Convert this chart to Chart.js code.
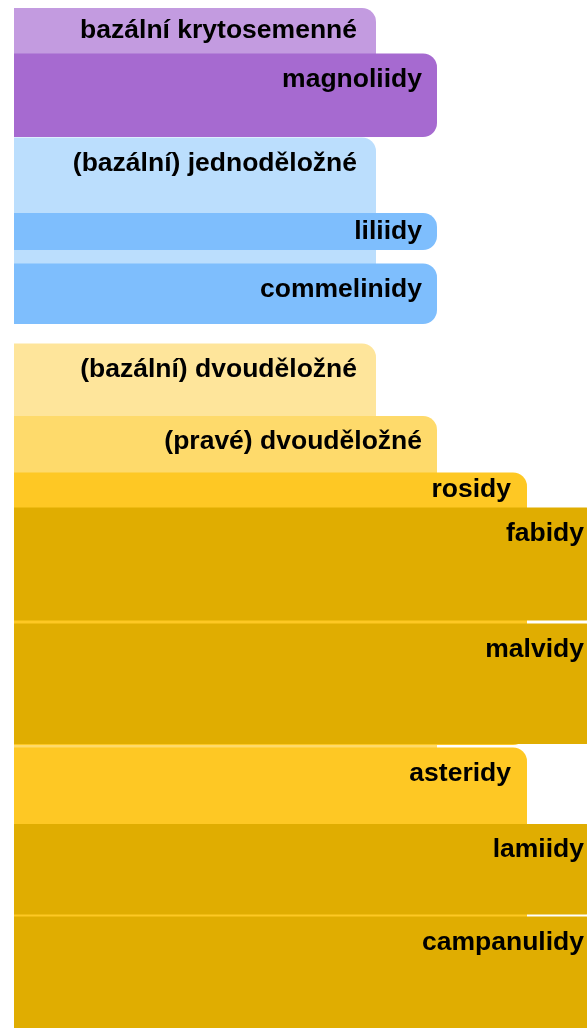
<!DOCTYPE html>
<html>
<head>
<meta charset="utf-8">
<script src="https://cdn.jsdelivr.net/npm/chart.js@4"></script>
<style>
  html, body { margin: 0; padding: 0; background: #fff; overflow: hidden; }
  #wrap { position: absolute; left: 0; top: 0; width: 614px; height: 1108px; }
</style>
</head>
<body>
<div id="wrap"><canvas id="icicle"></canvas></div>
<script>
// clades, top to bottom
const names = [
  "bazální krytosemenné", "magnoliidy",
  "(bazální) jednoděložné", "liliidy", "commelinidy",
  "(bazální) dvouděložné", "(pravé) dvouděložné",
  "rosidy", "fabidy", "malvidy",
  "asteridy", "lamiidy", "campanulidy"
];
const level = [1, 2, 1, 2, 2, 1, 2, 3, 4, 4, 3, 4, 4];
const parentOf = [-1, 0, -1, 2, 2, -1, 5, 6, 7, 7, 6, 10, 10];
const spanFrom = [0, 45.5, 129.5, 205, 255.5, 335.5, 408, 464.5, 499.5, 615.5, 739.5, 816, 908.5];
const spanTo = [129, 129, 316, 242, 316, 1060, 1060, 737, 612.5, 736, 1060, 906.5, 1060];
const levelReach = [362, 423, 513, 586];
const colors = [
  "#c39be0", "#a66ad0",
  "#bbdefd", "#7ebefd", "#7ebefd",
  "#fee59b", "#feda6b",
  "#fec824", "#e0ad01", "#e0ad01",
  "#fec824", "#e0ad01", "#e0ad01"
];

const labelInset = [19, 15, 16, 16];

// one dataset per depth, bar width = reach of that depth on the x scale
const datasets = levelReach.map((reach, li) => {
  const idx = names.map((n, i) => i).filter(i => level[i] === li + 1);
  return {
    label: "level " + (li + 1),
    nodes: idx,
    data: idx.map(i => ({ x: reach / 2, y: [spanFrom[i], spanTo[i]] })),
    backgroundColor: idx.map(i => colors[i]),
    borderWidth: 0,
    borderSkipped: false,
    borderRadius: { topLeft: 0, bottomLeft: 0, topRight: 14, bottomRight: 14 },
    inflateAmount: 0,
    order: levelReach.length - li,
    barThickness: (c) => {
      const x = c.chart.scales.x;
      return x.getPixelForValue(reach) - x.getPixelForValue(0);
    }
  };
});

const cladeLabels = {
  id: "cladeLabels",
  afterDatasetsDraw(chart) {
    const ctx = chart.ctx;
    const y = chart.scales.y;
    ctx.save();
    ctx.font = 'bold 26.5px "Liberation Sans", Arial, sans-serif';
    ctx.fillStyle = "#000";
    ctx.textAlign = "right";
    ctx.textBaseline = "middle";
    chart.data.datasets.forEach((ds, di) => {
      const meta = chart.getDatasetMeta(di);
      ds.nodes.forEach((node, k) => {
        const bar = meta.data[k];
        const top = Math.min(bar.y, bar.base);
        const bottom = Math.max(bar.y, bar.base);
        const firstChild = parentOf.indexOf(node);
        const band = firstChild >= 0 ? y.getPixelForValue(spanFrom[firstChild]) - top : bottom - top;
        const right = bar.x + bar.width / 2;
        ctx.fillText(names[node], right - labelInset[level[node] - 1], top + Math.min(band / 2, 26));
      });
    });
    ctx.restore();
  }
};

new Chart(document.getElementById("icicle"), {
  type: "bar",
  data: { datasets },
  options: {
    responsive: true,
    maintainAspectRatio: false,
    animation: false,
    layout: { padding: { left: 14, top: 8, right: 0, bottom: 0 } },
    datasets: { bar: { grouped: false } },
    scales: {
      x: { type: "linear", min: 0, max: 600, offset: false, display: false },
      y: { type: "linear", min: 0, max: 1100, reverse: true, display: false }
    },
    plugins: {
      legend: { display: false },
      tooltip: { enabled: false }
    }
  },
  plugins: [cladeLabels]
});
</script>
</body>
</html>
